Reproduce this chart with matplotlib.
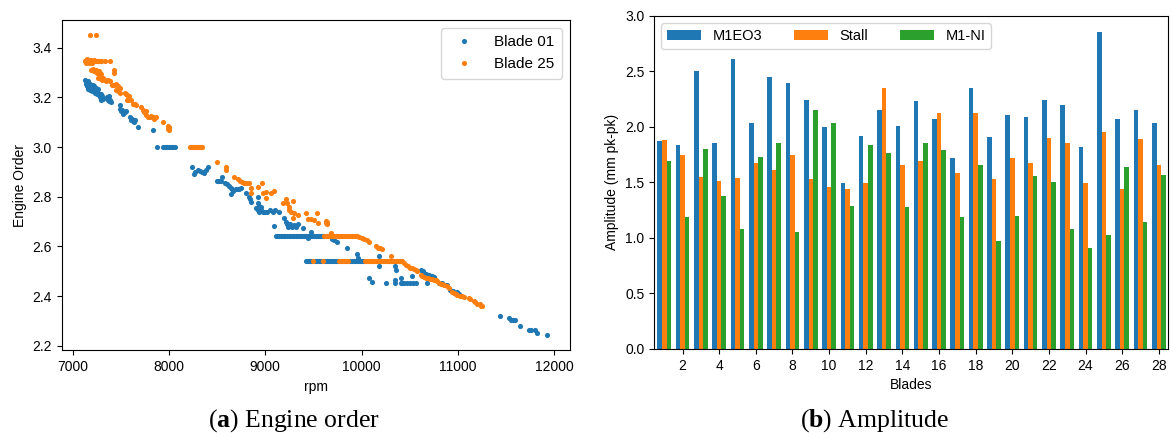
import matplotlib
matplotlib.use("Agg")
import matplotlib.pyplot as plt
import numpy as np

plt.rcParams['font.family'] = ['Liberation Sans', 'DejaVu Sans']
plt.rcParams['font.size'] = 10
plt.rcParams['mathtext.fontset'] = 'custom'
plt.rcParams['mathtext.rm'] = 'Liberation Serif'
plt.rcParams['mathtext.bf'] = 'Liberation Serif:bold'

# --- (a) engine order vs rpm as (rpm, EO) ---
blade01_points = [
    (7130, 3.27), (7135, 3.255), (7140, 3.265), (7145, 3.245), (7150, 3.26), (7155, 3.25),
    (7160, 3.235), (7165, 3.265), (7170, 3.25), (7175, 3.24), (7180, 3.255), (7185, 3.23),
    (7190, 3.25), (7195, 3.245), (7200, 3.235), (7205, 3.225), (7210, 3.25), (7215, 3.24),
    (7220, 3.23), (7225, 3.245), (7230, 3.22), (7235, 3.235), (7240, 3.225), (7245, 3.24),
    (7250, 3.215), (7255, 3.23), (7260, 3.22), (7265, 3.235), (7275, 3.21), (7285, 3.2),
    (7290, 3.215), (7300, 3.19), (7310, 3.205), (7315, 3.195),
    (7355, 3.2), (7365, 3.19), (7375, 3.205), (7380, 3.185), (7390, 3.19), (7400, 3.18),
    (7490, 3.17), (7495, 3.155), (7505, 3.145), (7515, 3.15), (7525, 3.135), (7540, 3.14),
    (7555, 3.145), (7595, 3.12), (7605, 3.11), (7615, 3.115), (7625, 3.105), (7640, 3.1),
    (7645, 3.11), (7680, 3.08), (7830, 3.07), (7875, 3.0),
    (7940, 3.0), (7955, 3.0), (7970, 3.0), (7985, 3.0), (8000, 3.0), (8015, 3.0),
    (8030, 3.0), (8045, 3.0), (8060, 3.0),
    (8235, 2.92), (8260, 2.89), (8270, 2.9), (8300, 2.91), (8320, 2.905), (8340, 2.9),
    (8365, 2.895), (8390, 2.91), (8405, 2.92),
    (8495, 2.864), (8510, 2.864), (8525, 2.864), (8545, 2.864), (8550, 2.88),
    (8580, 2.855), (8600, 2.85), (8620, 2.845), (8640, 2.835), (8650, 2.83), (8665, 2.825),
    (8645, 2.812), (8700, 2.83), (8715, 2.83), (8730, 2.832), (8750, 2.835),
    (8800, 2.815), (8835, 2.8), (8845, 2.79), (8855, 2.78), (8920, 2.8), (8925, 2.775),
    (8940, 2.765), (8955, 2.76), (8905, 2.755), (8920, 2.745), (8940, 2.74), (8960, 2.745),
    (8980, 2.74), (9000, 2.74), (9020, 2.74), (9050, 2.745), (9080, 2.74), (9100, 2.745),
    (9145, 2.74), (9090, 2.683), (9190, 2.714),
    (9215, 2.7), (9230, 2.69), (9240, 2.68), (9260, 2.69), (9280, 2.68), (9300, 2.685),
    (9320, 2.68), (9335, 2.69), (9390, 2.673), (9480, 2.66), (9440, 2.633),
    (9110, 2.643), (9125, 2.643), (9140, 2.643), (9160, 2.643), (9175, 2.643), (9190, 2.643),
    (9210, 2.643), (9225, 2.643), (9245, 2.643), (9260, 2.643), (9280, 2.643), (9300, 2.643),
    (9315, 2.643), (9330, 2.643), (9350, 2.643), (9370, 2.643), (9385, 2.643), (9400, 2.643),
    (9420, 2.643), (9440, 2.643), (9455, 2.643), (9470, 2.643), (9490, 2.643), (9510, 2.643),
    (9525, 2.643), (9545, 2.643), (9560, 2.643), (9580, 2.643), (9600, 2.643), (9615, 2.643),
    (9635, 2.643), (9650, 2.643), (9670, 2.643), (9690, 2.643), (9705, 2.643), (9720, 2.643),
    (9735, 2.643),
    (9420, 2.543), (9440, 2.543), (9460, 2.543), (9480, 2.543), (9500, 2.543), (9520, 2.543),
    (9540, 2.543), (9560, 2.543), (9580, 2.543), (9600, 2.543), (9620, 2.543), (9640, 2.543),
    (9660, 2.543), (9680, 2.543), (9700, 2.543), (9720, 2.543), (9740, 2.543), (9760, 2.543),
    (9880, 2.543), (9900, 2.543), (9920, 2.543), (9940, 2.543), (9960, 2.543), (9980, 2.543),
    (10000, 2.543), (10020, 2.543), (10100, 2.543), (10200, 2.543), (10300, 2.543),
    (10400, 2.543),
    (9690, 2.63), (9710, 2.625), (9750, 2.62), (9845, 2.593), (9955, 2.57), (9960, 2.555),
    (10180, 2.56), (10185, 2.54), (10180, 2.52), (10345, 2.52), (10360, 2.505),
    (10075, 2.472), (10110, 2.455), (10250, 2.452), (10345, 2.466), (10345, 2.452),
    (10405, 2.452), (10420, 2.452), (10440, 2.452), (10470, 2.452), (10500, 2.452),
    (10530, 2.452), (10560, 2.452), (10410, 2.472), (10525, 2.481),
    (10612, 2.506), (10640, 2.5), (10670, 2.49), (10700, 2.485), (10730, 2.48), (10750, 2.479),
    (10680, 2.452), (10800, 2.452), (10835, 2.452), (10870, 2.445), (10888, 2.445),
    (10922, 2.425), (10950, 2.42), (10975, 2.41), (10990, 2.415), (11009, 2.41), (11030, 2.4),
    (11433, 2.321), (11526, 2.313), (11550, 2.304), (11575, 2.304), (11595, 2.304),
    (11647, 2.281), (11733, 2.264), (11760, 2.264), (11800, 2.264), (11826, 2.253),
    (11923, 2.242),
]

blade25_points = [
    (7186, 3.451), (7238, 3.451),
    (7127, 3.345), (7135, 3.35), (7142, 3.34), (7150, 3.355), (7158, 3.345), (7165, 3.35),
    (7172, 3.34), (7180, 3.35), (7188, 3.345), (7196, 3.35), (7204, 3.34), (7212, 3.347),
    (7220, 3.35), (7228, 3.345), (7236, 3.347), (7244, 3.347), (7252, 3.347), (7260, 3.347),
    (7268, 3.347), (7276, 3.347), (7284, 3.347), (7292, 3.347), (7300, 3.347),
    (7341, 3.347), (7393, 3.347),
    (7196, 3.31), (7210, 3.315), (7225, 3.305), (7240, 3.31), (7255, 3.3), (7270, 3.305),
    (7285, 3.3), (7300, 3.295), (7428, 3.3), (7425, 3.31),
    (7265, 3.28), (7280, 3.285), (7295, 3.275), (7310, 3.27), (7317, 3.28),
    (7335, 3.27), (7350, 3.265), (7365, 3.27), (7386, 3.265),
    (7405, 3.25), (7420, 3.25), (7435, 3.25), (7450, 3.255), (7470, 3.245), (7490, 3.24),
    (7455, 3.23), (7470, 3.225), (7490, 3.22), (7540, 3.22), (7555, 3.215), (7570, 3.21),
    (7585, 3.205), (7560, 3.19), (7575, 3.19), (7590, 3.195), (7610, 3.19),
    (7630, 3.175), (7645, 3.175), (7660, 3.17),
    (7715, 3.16), (7730, 3.15), (7745, 3.14), (7760, 3.145), (7766, 3.13),
    (7785, 3.12), (7800, 3.12), (7815, 3.125), (7830, 3.12), (7850, 3.115), (7870, 3.12),
    (7938, 3.1), (7990, 3.085), (7995, 3.075), (8000, 3.08), (8005, 3.07),
    (8214, 3.0), (8225, 3.0), (8236, 3.0), (8247, 3.0), (8258, 3.0), (8270, 3.0),
    (8281, 3.0), (8292, 3.0), (8303, 3.0), (8315, 3.0), (8326, 3.0), (8337, 3.0), (8348, 3.0),
    (8498, 2.942), (8594, 2.92), (8594, 2.91), (8680, 2.88), (8715, 2.87), (8735, 2.865),
    (8760, 2.86), (8780, 2.855), (8800, 2.855), (8836, 2.855), (8853, 2.835), (8853, 2.815),
    (8963, 2.855), (8922, 2.84), (9008, 2.82), (8974, 2.815), (9008, 2.795), (9060, 2.815),
    (9094, 2.825), (9181, 2.774), (9215, 2.79), (9230, 2.775), (9250, 2.76), (9291, 2.784),
    (9250, 2.745), (9270, 2.74), (9300, 2.735), (9336, 2.727), (9284, 2.714), (9422, 2.734),
    (9440, 2.71), (9470, 2.71), (9508, 2.705), (9536, 2.734), (9543, 2.694), (9630, 2.694),
    (9640, 2.7), (9646, 2.69), (9630, 2.703), (9680, 2.653),
    (9612, 2.644), (9627, 2.644), (9642, 2.644), (9657, 2.644), (9672, 2.644), (9687, 2.644),
    (9702, 2.644), (9717, 2.644), (9732, 2.644), (9747, 2.644), (9762, 2.644), (9777, 2.644),
    (9792, 2.644), (9807, 2.644), (9822, 2.644), (9837, 2.644), (9852, 2.644), (9867, 2.644),
    (9882, 2.644), (9897, 2.644), (9912, 2.644), (9927, 2.644), (9942, 2.644), (9957, 2.644),
    (9974, 2.64), (10000, 2.635), (10030, 2.63), (10060, 2.625), (10077, 2.62),
    (10146, 2.602), (10170, 2.595), (10190, 2.595), (10215, 2.589), (10302, 2.562),
    (9491, 2.543), (9595, 2.543), (9770, 2.543), (9785, 2.543), (9800, 2.543), (9815, 2.543),
    (9830, 2.543), (9845, 2.543), (9860, 2.543), (10040, 2.543), (10055, 2.543),
    (10070, 2.543), (10085, 2.543), (10100, 2.543), (10115, 2.543), (10130, 2.543),
    (10145, 2.543), (10160, 2.543), (10175, 2.543), (10190, 2.543), (10205, 2.543),
    (10220, 2.543), (10235, 2.543), (10250, 2.543), (10265, 2.543), (10280, 2.543),
    (10295, 2.543), (10310, 2.543), (10325, 2.543), (10340, 2.543), (10355, 2.543),
    (10370, 2.543), (10385, 2.543), (10400, 2.543), (10415, 2.543),
    (10440, 2.532), (10460, 2.525), (10480, 2.52), (10500, 2.515), (10520, 2.512),
    (10540, 2.51), (10560, 2.506), (10578, 2.5), (10612, 2.485), (10630, 2.48), (10650, 2.478),
    (10670, 2.475), (10690, 2.472), (10710, 2.47), (10730, 2.468), (10750, 2.466),
    (10770, 2.465), (10785, 2.46), (10802, 2.452), (10820, 2.45), (10840, 2.448),
    (10860, 2.445), (10888, 2.439), (10905, 2.431), (10940, 2.418), (10957, 2.414),
    (10975, 2.41), (10991, 2.405), (11026, 2.4), (11045, 2.4), (11060, 2.398), (11112, 2.391),
    (11130, 2.39), (11164, 2.38), (11180, 2.375), (11198, 2.37), (11226, 2.37), (11240, 2.362),
    (11250, 2.36),
]

# --- (b) amplitude per blade ---
blades = np.arange(1, 29)
m1eo3 = [1.87, 1.84, 2.50, 1.85, 2.61, 2.03, 2.45, 2.39, 2.24, 2.00, 1.49, 1.92, 2.15, 2.01,
         2.23, 2.07, 1.72, 2.35, 1.91, 2.11, 2.09, 2.24, 2.20, 1.82, 2.85, 2.07, 2.15, 2.03]
stall = [1.88, 1.75, 1.55, 1.51, 1.54, 1.67, 1.61, 1.75, 1.53, 1.46, 1.44, 1.49, 2.35, 1.66,
         1.69, 2.12, 1.58, 2.12, 1.53, 1.72, 1.67, 1.90, 1.85, 1.49, 1.95, 1.44, 1.89, 1.66]
m1_ni = [1.69, 1.19, 1.80, 1.38, 1.08, 1.73, 1.85, 1.05, 2.15, 2.03, 1.29, 1.84, 1.76, 1.28,
         1.85, 1.79, 1.19, 1.66, 0.97, 1.20, 1.56, 1.50, 1.08, 0.91, 1.03, 1.64, 1.14, 1.57]

fig = plt.figure(figsize=(11.71, 4.38), dpi=100)

# left panel
ax1 = fig.add_axes([0.0527, 0.200, 0.434, 0.754])
b01 = np.array(blade01_points)
b25 = np.array(blade25_points)
ax1.plot(b01[:, 0], b01[:, 1], 'o', ms=3.7, mew=0, color='#1f77b4', label='Blade 01')
ax1.plot(b25[:, 0], b25[:, 1], 'o', ms=3.7, mew=0, color='#ff7f0e', label='Blade 25')
ax1.set_xticks([7000, 8000, 9000, 10000, 11000, 12000])
ax1.set_yticks([2.2, 2.4, 2.6, 2.8, 3.0, 3.2, 3.4])
ax1.set_xlabel('rpm')
ax1.set_ylabel('Engine Order')
ax1.legend(loc='upper right', fontsize=11, handletextpad=1.0, borderpad=0.5)

# right panel
ax2 = fig.add_axes([0.5585, 0.2032, 0.4389, 0.761])
w = 0.25
ax2.bar(blades - w, m1eo3, w, color='#1f77b4', label='M1EO3')
ax2.bar(blades, stall, w, color='#ff7f0e', label='Stall')
ax2.bar(blades + w, m1_ni, w, color='#2ca02c', label='M1-NI')
ax2.set_xlim(0.44, 28.5)
ax2.set_ylim(0, 3.0)
ax2.set_xticks(np.arange(2, 29, 2))
ax2.set_yticks(np.arange(0, 3.01, 0.5))
ax2.set_xlabel('Blades')
ax2.set_ylabel('Amplitude (mm pk-pk)')
ax2.legend(loc='upper left', ncol=3, fontsize=10.5, handlelength=2.3, columnspacing=2.2)

# captions
fig.text(0.251, 0.04, r'($\mathbf{a}$) Engine order', ha='center', va='center',
         family='Liberation Serif', fontsize=18.5)
fig.text(0.747, 0.04, r'($\mathbf{b}$) Amplitude', ha='center', va='center',
         family='Liberation Serif', fontsize=18.5)

fig.savefig('out.png', dpi=100)
